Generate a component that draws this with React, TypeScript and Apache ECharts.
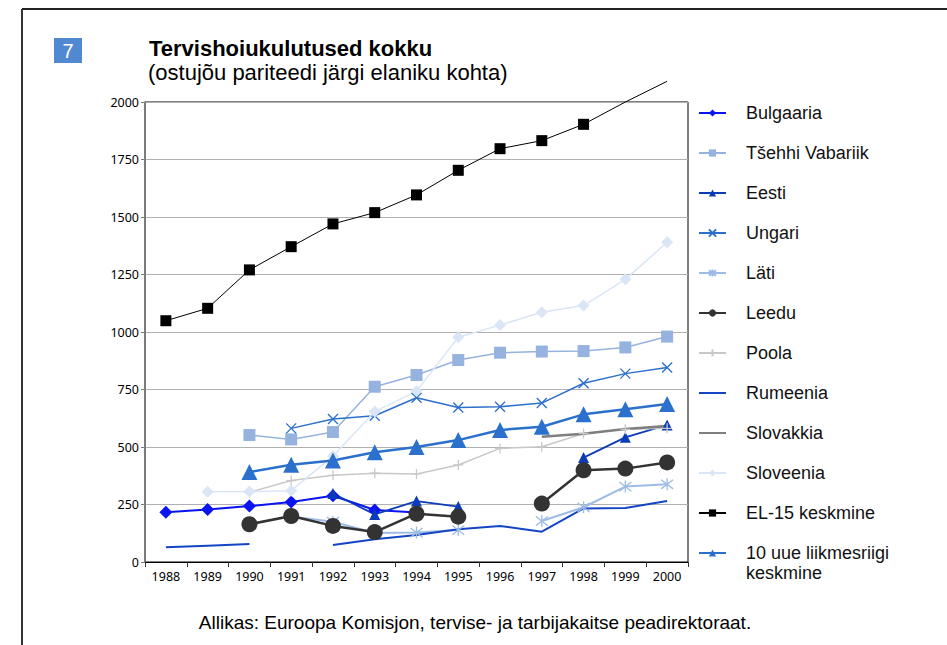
import React, { useEffect, useRef } from "react";
import * as echarts from "echarts";

const years = ["1988", "1989", "1990", "1991", "1992", "1993", "1994", "1995", "1996", "1997", "1998", "1999", "2000"];
const yTicks = [0, 250, 500, 750, 1000, 1250, 1500, 1750, 2000];

const bulgaria = [216, 228, 243, 261, 288, 226, 215, null, null, null, null, null, null];
const tsehhi = [null, null, 552, 533, 565, 762, 813, 878, 910, 915, 917, 933, 980];
const eesti = [null, null, null, null, 298, 207, 265, 241, null, null, 454, 542, 596];
const ungari = [null, null, null, 581, 622, 636, 714, 672, 675, 691, 777, 819, 846];
const lati = [null, null, 165, 198, 175, 126, 128, 139, null, 178, 238, 328, 338];
const leedu = [null, null, 164, 200, 157, 130, 210, 197, null, 254, 399, 406, 433];
const poola = [null, null, 303, 354, 377, 386, 383, 422, 494, 501, 559, 577, 581];
const rumeenia = [64, 71, 78, null, 74, 99, 117, 142, 157, 132, 233, 235, 265];
const slovakkia = [null, null, null, null, null, null, null, null, null, 545, 558, 578, 591];
const sloveenia = [null, 305, 306, 310, 460, 654, 743, 977, 1030, 1086, 1115, 1229, 1390];
const el15 = [1049, 1103, 1270, 1371, 1470, 1519, 1596, 1703, 1797, 1832, 1903, 2000, 2090];
const uus10 = [null, null, 391, 423, 441, 477, 500, 530, 574, 588, 642, 664, 687];

const names = [
  "Bulgaaria",
  "Tšehhi Vabariik",
  "Eesti",
  "Ungari",
  "Läti",
  "Leedu",
  "Poola",
  "Rumeenia",
  "Slovakkia",
  "Sloveenia",
  "EL-15 keskmine",
  "10 uue liikmesriigi keskmine",
];

const X_PATH = "path://M0,0L10,10M10,0L0,10";
const STAR_PATH = "path://M0,0L10,10M10,0L0,10M5,-1.5L5,11.5";
const PLUS_PATH = "path://M5,0L5,10M0,5L10,5";
const NONE_PATH = "path://M0,0L10,0L10,10L0,10Z";

function mk(name: string, data: any[], color: string, width: number, symbol: string, size: number, mode = "fill", extra: any = {}) {
  let itemStyle: any = { color, borderColor: color, borderWidth: 0 };
  if (mode === "stroke") itemStyle = { color: "rgba(0,0,0,0)", borderColor: color, borderWidth: 1.3 };
  if (mode === "none") itemStyle = { color: "rgba(0,0,0,0)", borderColor: "rgba(0,0,0,0)", borderWidth: 0 };
  return {
    name,
    type: "line",
    data,
    connectNulls: false,
    symbol,
    symbolSize: size,
    showSymbol: mode !== "none",
    lineStyle: { color, width },
    itemStyle,
    emphasis: { disabled: true },
    ...extra,
  };
}

const legendText = {
  fontFamily: "Liberation Sans, Arial, sans-serif",
  fontSize: 18,
  color: "#111",
  lineHeight: 20,
  padding: [0, 0, 0, 15],
};

export default function App() {
  const ref = useRef<HTMLDivElement>(null);
  useEffect(() => {
    if (!ref.current) return;
    const chart = echarts.init(ref.current, null, { renderer: "svg" });
    const el15Data = el15.map((v) => (v >= 2000 ? { value: v, symbol: "none" } : v));
    const series: any[] = [
      mk(names[0], bulgaria, "#0a14f0", 2, "diamond", 13),
      mk(names[1], tsehhi, "#95b3de", 1.5, "rect", 12),
      mk(names[2], eesti, "#0d3cb8", 1.8, "triangle", 11),
      mk(names[3], ungari, "#2d6fcc", 1.5, X_PATH, 10, "stroke"),
      mk(names[4], lati, "#9cbce6", 2, STAR_PATH, 12, "stroke"),
      mk(names[5], leedu, "#333333", 2.5, "circle", 16),
      mk(names[6], poola, "#c8c8c8", 1.5, PLUS_PATH, 10, "stroke"),
      mk(names[7], rumeenia, "#1445c4", 2, NONE_PATH, 4, "none"),
      mk(names[8], slovakkia, "#7f7f7f", 2.5, NONE_PATH, 4, "none"),
      mk(names[9], sloveenia, "#dae6f5", 1.5, "diamond", 12),
      mk(names[10], el15Data, "#000000", 1, "rect", 11, "fill", { clip: false, z: 3 }),
      mk(names[11], uus10, "#2a70cc", 2.5, "triangle", 16),
    ];
    chart.setOption({
      animation: false,
      grid: {
        left: 145,
        top: 102,
        right: 259,
        bottom: 83,
        show: true,
        borderColor: "#000",
        borderWidth: 1,
        containLabel: false,
      },
      legend: [
        {
          orient: "vertical",
          left: 693,
          top: 98,
          itemWidth: 27,
          itemHeight: 9,
          itemGap: 20,
          selectedMode: false,
          data: names.slice(0, 11),
          textStyle: legendText,
        },
        {
          orient: "vertical",
          left: 693,
          top: 518,
          itemWidth: 27,
          itemHeight: 9,
          selectedMode: false,
          data: [names[11]],
          textStyle: legendText,
          formatter: () => "\n10 uue liikmesriigi\nkeskmine",
        },
      ],
      xAxis: {
        type: "category",
        data: years,
        boundaryGap: true,
        axisLine: { show: true, lineStyle: { color: "#000", width: 1 } },
        axisTick: { show: true, length: 5, lineStyle: { color: "#333" } },
        axisLabel: { fontFamily: "Noto Sans, sans-serif", fontSize: 12.5, color: "#000", margin: 8 },
        splitLine: { show: false },
      },
      yAxis: {
        type: "value",
        min: yTicks[0],
        max: yTicks[yTicks.length - 1],
        interval: 250,
        axisLine: { show: true, lineStyle: { color: "#7a7a7a", width: 1.5 } },
        axisTick: { show: true, length: 4, lineStyle: { color: "#7a7a7a" } },
        axisLabel: {
          fontFamily: "Noto Sans, sans-serif",
          fontSize: 12.5,
          color: "#000",
          margin: 6,
          formatter: (v: number) => String(v),
        },
        splitLine: { show: true, lineStyle: { color: "#b0b0b0", width: 1 } },
      },
      graphic: [
        { type: "line", shape: { x1: 22, y1: 9, x2: 947, y2: 9 }, style: { stroke: "#222", lineWidth: 2 } },
        { type: "line", shape: { x1: 22, y1: 9, x2: 22, y2: 645 }, style: { stroke: "#333", lineWidth: 2 } },
        { type: "rect", shape: { x: 54, y: 38, width: 28, height: 25 }, style: { fill: "#5088d2" } },
        {
          type: "text",
          x: 68,
          y: 50.5,
          style: { text: "7", fill: "#fff", font: "20px Liberation Sans, Arial, sans-serif", textAlign: "center", textVerticalAlign: "middle" },
        },
        {
          type: "text",
          x: 149,
          y: 37,
          style: { text: "Tervishoiukulutused kokku", fill: "#000", font: "bold 22px Liberation Sans, Arial, sans-serif" },
        },
        {
          type: "text",
          x: 148,
          y: 61,
          style: { text: "(ostujõu pariteedi järgi elaniku kohta)", fill: "#000", font: "22px Liberation Sans, Arial, sans-serif" },
        },
        {
          type: "text",
          x: 475,
          y: 622,
          style: {
            text: "Allikas: Euroopa Komisjon, tervise- ja tarbijakaitse peadirektoraat.",
            fill: "#000",
            font: "19px Liberation Sans, Arial, sans-serif",
            textAlign: "center",
            textVerticalAlign: "middle",
          },
        },
      ],
      series,
    });
    return () => chart.dispose();
  }, []);
  return <div ref={ref} style={{ position: "absolute", left: 0, top: 0, width: 947, height: 645, background: "#fff" }} />;
}
